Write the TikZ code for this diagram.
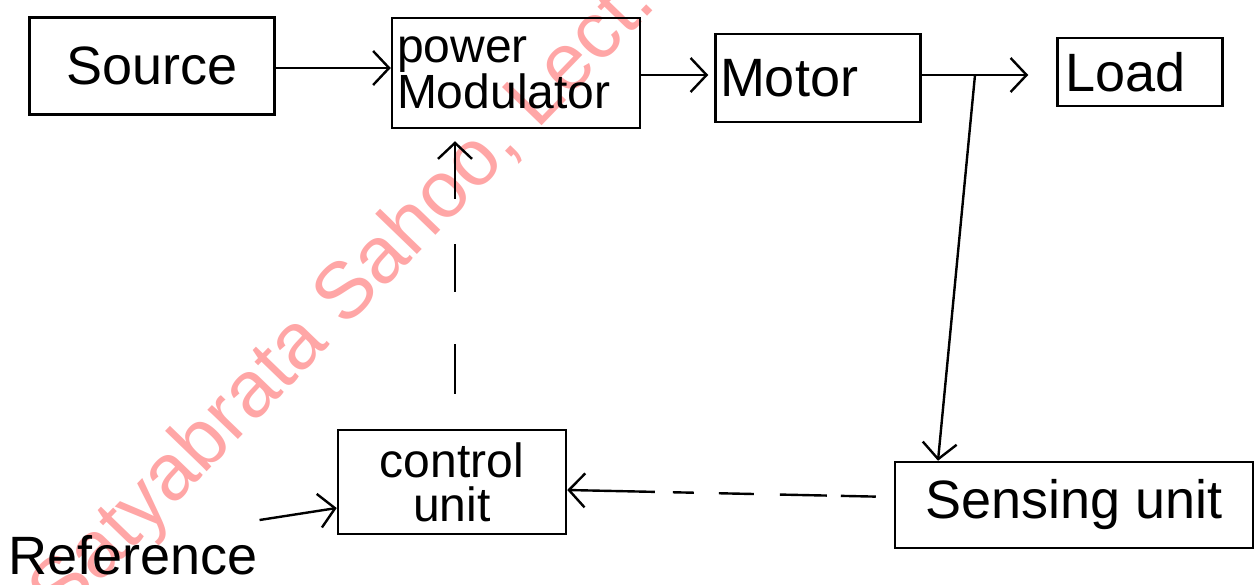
\documentclass[tikz,border=0pt]{standalone}
\usepackage{fontspec}
\setmainfont{Liberation Sans}
\usetikzlibrary{arrows.meta}
\tikzset{
  blk/.style={draw, line width=2.5pt, inner sep=4pt, font=\fontsize{54}{56}\selectfont},
  twoline/.style={font=\fontsize{48}{44}\selectfont},
  conn/.style={line width=2.4pt, -{Straight Barb[length=16pt,width=34pt,line width=2.4pt]}},
  wmark/.style={text=red!35, font=\fontsize{80}{82}\selectfont, rotate=46}
}
\begin{document}
\begin{tikzpicture}[x=1pt,y=-1pt]
\useasboundingbox (0,0) rectangle (1259,584);
% watermark
\node[wmark] (wm) at (345,300) {Satyabrata Sahoo, Lect.};
% boxes
\node[blk, minimum width=245pt, minimum height=97pt] (src) at (152,66) {Source};
\node[blk, twoline, minimum width=248pt, minimum height=110pt, align=left, text width=238pt] (pm) at (516,73) {power\\Modulator};
\node[blk, minimum width=205pt, minimum height=88pt, align=left, text width=196pt] (mot) at (818,78) {Motor};
\node[blk, minimum width=165pt, minimum height=68pt, align=left, text width=150pt] (load) at (1140,72) {Load};
\node[blk, twoline, minimum width=228pt, minimum height=104pt, align=center] (ctrl) at (452,482) {control\\unit};
\node[blk, minimum width=358pt, minimum height=86pt] (sens) at (1074,505) {Sensing unit};
\node[font=\fontsize{54}{56}\selectfont, anchor=base west, inner sep=2pt] (ref) at (6,574) {Reference};
\coordinate (br) at (975,75);
% connectors
\draw[conn] (src.east |- 0,68) -- (pm.west |- 0,68);
\draw[conn, shorten >=6pt] (pm.east |- 0,75) -- (mot.west |- 0,75);
\draw[line width=2.4pt] (mot.east |- 0,75) -- (br);
\draw[conn, shorten >=28pt] (br) -- (load.west |- br);
\draw[conn] (br) -- (sens.north -| 938,0);
\draw[conn, dash pattern=on 35pt off 14pt on 47pt off 26pt on 35pt off 25pt on 21pt off 18pt on 120pt, shorten <=18pt] (sens.west |- 0,497) -- (ctrl.east |- 0,490);
\draw[conn, dash pattern=on 50pt off 52pt on 48pt off 45pt on 70pt, shorten <=35pt, shorten >=12pt] (ctrl.north -| 455,0) -- (pm.south -| 455,0);
\draw[conn] (ref.east |- 0,520) -- (ctrl.west |- 0,508);
\end{tikzpicture}
\end{document}
